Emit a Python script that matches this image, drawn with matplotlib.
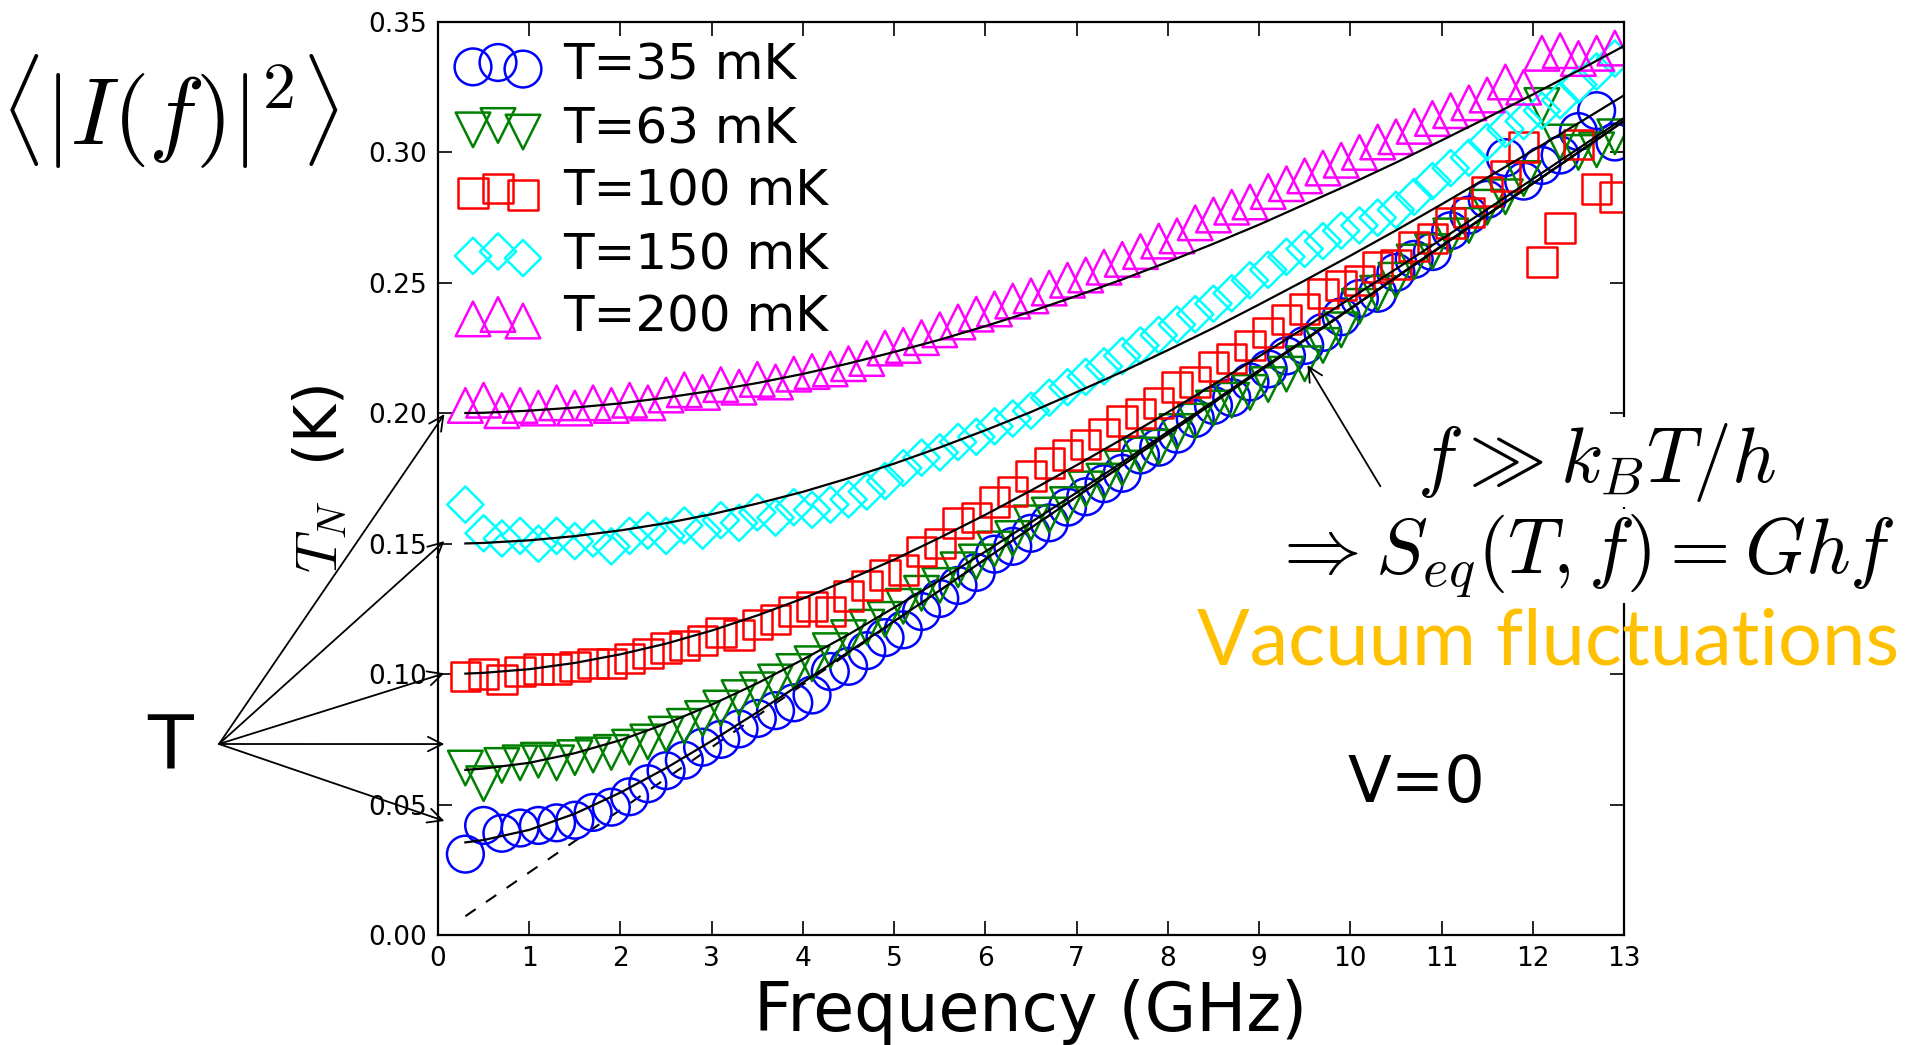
import numpy as np
import matplotlib
matplotlib.use("Agg")
import matplotlib.pyplot as plt

plt.rcParams['mathtext.fontset'] = 'cm'
plt.rcParams['font.family'] = 'DejaVu Sans'

# frequency sweep (GHz)
freq = [0.3, 0.5, 0.7, 0.9, 1.1, 1.3, 1.5, 1.7, 1.9, 2.1, 2.3, 2.5, 2.7, 2.9, 3.1, 3.3,
        3.5, 3.7, 3.9, 4.1, 4.3, 4.5, 4.7, 4.9, 5.1, 5.3, 5.5, 5.7, 5.9, 6.1, 6.3, 6.5,
        6.7, 6.9, 7.1, 7.3, 7.5, 7.7, 7.9, 8.1, 8.3, 8.5, 8.7, 8.9, 9.1, 9.3, 9.5, 9.7,
        9.9, 10.1, 10.3, 10.5, 10.7, 10.9, 11.1, 11.3, 11.5, 11.7, 11.9, 12.1, 12.3, 12.5,
        12.7, 12.9]

# measured noise temperature T_N (K)
tn_35 = [0.031, 0.042, 0.039, 0.041, 0.042, 0.043, 0.044, 0.047, 0.049, 0.053, 0.058, 0.063,
         0.067, 0.072, 0.075, 0.079, 0.083, 0.086, 0.089, 0.092, 0.101, 0.103, 0.109, 0.114,
         0.117, 0.124, 0.129, 0.134, 0.139, 0.146, 0.149, 0.154, 0.158, 0.164, 0.168, 0.173,
         0.177, 0.184, 0.187, 0.192, 0.198, 0.203, 0.206, 0.212, 0.217, 0.222, 0.226, 0.231,
         0.237, 0.244, 0.246, 0.254, 0.259, 0.262, 0.270, 0.276, 0.282, 0.298, 0.289, 0.295,
         0.299, 0.308, 0.316, 0.304]
tn_63 = [0.064, 0.058, 0.065, 0.066, 0.067, 0.066, 0.068, 0.069, 0.070, 0.072, 0.074, 0.077,
         0.080, 0.083, 0.087, 0.091, 0.094, 0.097, 0.101, 0.104, 0.109, 0.114, 0.118, 0.121,
         0.126, 0.131, 0.134, 0.140, 0.143, 0.148, 0.152, 0.158, 0.161, 0.165, 0.171, 0.174,
         0.179, 0.184, 0.187, 0.193, 0.197, 0.202, 0.205, 0.208, 0.211, 0.215, 0.219, 0.226,
         0.232, 0.241, 0.246, 0.251, 0.258, 0.262, 0.268, 0.272, 0.279, 0.283, 0.290, 0.318,
         0.304, 0.300, 0.301, 0.306]
tn_100 = [0.099, 0.100, 0.098, 0.101, 0.102, 0.102, 0.103, 0.104, 0.104, 0.106, 0.108, 0.110,
          0.111, 0.113, 0.116, 0.115, 0.119, 0.121, 0.124, 0.126, 0.124, 0.130, 0.134, 0.138,
          0.140, 0.147, 0.150, 0.158, 0.160, 0.166, 0.170, 0.176, 0.181, 0.184, 0.188, 0.192,
          0.197, 0.200, 0.204, 0.210, 0.212, 0.218, 0.221, 0.226, 0.231, 0.236, 0.240, 0.246,
          0.249, 0.251, 0.256, 0.257, 0.264, 0.267, 0.273, 0.277, 0.285, 0.291, 0.302, 0.258,
          0.271, 0.303, 0.286, 0.283]
tn_150 = [0.165, 0.154, 0.152, 0.153, 0.150, 0.153, 0.151, 0.152, 0.149, 0.153, 0.155, 0.153,
          0.157, 0.155, 0.159, 0.158, 0.162, 0.160, 0.164, 0.163, 0.165, 0.167, 0.170, 0.174,
          0.179, 0.183, 0.185, 0.189, 0.191, 0.195, 0.198, 0.201, 0.206, 0.210, 0.214, 0.218,
          0.222, 0.226, 0.230, 0.234, 0.238, 0.242, 0.246, 0.251, 0.255, 0.260, 0.263, 0.266,
          0.270, 0.272, 0.275, 0.278, 0.283, 0.289, 0.294, 0.298, 0.304, 0.309, 0.312, 0.316,
          0.320, 0.326, 0.331, 0.336]
tn_200 = [0.203, 0.205, 0.201, 0.203, 0.202, 0.204, 0.202, 0.204, 0.203, 0.205, 0.204, 0.207,
          0.209, 0.208, 0.211, 0.210, 0.213, 0.212, 0.215, 0.216, 0.217, 0.219, 0.221, 0.225,
          0.226, 0.229, 0.232, 0.235, 0.238, 0.240, 0.243, 0.245, 0.248, 0.251, 0.253, 0.256,
          0.259, 0.262, 0.266, 0.268, 0.273, 0.276, 0.279, 0.281, 0.285, 0.288, 0.291, 0.294,
          0.297, 0.300, 0.304, 0.306, 0.310, 0.313, 0.316, 0.319, 0.322, 0.327, 0.325, 0.338,
          0.339, 0.336, 0.338, 0.340]

# fitted curves
fit_freq = [0.3, 0.5, 1.0, 1.5, 2.0, 2.5, 3.0, 3.5, 4.0, 4.5, 5.0, 5.5, 6.0, 6.5, 7.0, 7.5,
            8.0, 8.5, 9.0, 9.5, 10.0, 10.5, 11.0, 11.5, 12.0, 12.5, 13.0]
fit_35 = [0.0355, 0.0364, 0.0403, 0.0465, 0.0546, 0.0640, 0.0744, 0.0854, 0.0968, 0.1085,
          0.1203, 0.1321, 0.1441, 0.1561, 0.1680, 0.1800, 0.1920, 0.2040, 0.2160, 0.2280,
          0.2400, 0.2520, 0.2640, 0.2760, 0.2880, 0.3000, 0.3120]
fit_63 = [0.0633, 0.0638, 0.0660, 0.0697, 0.0747, 0.0810, 0.0883, 0.0965, 0.1056, 0.1152,
          0.1255, 0.1360, 0.1470, 0.1582, 0.1696, 0.1812, 0.1929, 0.2046, 0.2165, 0.2283,
          0.2402, 0.2522, 0.2642, 0.2762, 0.2881, 0.3001, 0.3121]
fit_100 = [0.1002, 0.1005, 0.1019, 0.1043, 0.1076, 0.1117, 0.1167, 0.1225, 0.1290, 0.1362,
           0.1439, 0.1523, 0.1611, 0.1704, 0.1801, 0.1901, 0.2004, 0.2110, 0.2218, 0.2328,
           0.2440, 0.2553, 0.2667, 0.2782, 0.2898, 0.3015, 0.3132]
fit_150 = [0.1501, 0.1503, 0.1513, 0.1529, 0.1551, 0.1579, 0.1613, 0.1654, 0.1699, 0.1751,
           0.1807, 0.1869, 0.1935, 0.2005, 0.2081, 0.2159, 0.2242, 0.2327, 0.2417, 0.2509,
           0.2604, 0.2701, 0.2801, 0.2903, 0.3007, 0.3112, 0.3219]
fit_200 = [0.2001, 0.2002, 0.2010, 0.2022, 0.2038, 0.2060, 0.2086, 0.2116, 0.2151, 0.2191,
           0.2235, 0.2282, 0.2334, 0.2390, 0.2450, 0.2513, 0.2580, 0.2650, 0.2723, 0.2801,
           0.2879, 0.2961, 0.3046, 0.3133, 0.3222, 0.3314, 0.3408]

# vacuum asymptote hf/2k_B
vac_freq = [0.3, 13.0]
vac_tn = [0.0072, 0.312]

labels = ['T=35 mK', 'T=63 mK', 'T=100 mK', 'T=150 mK', 'T=200 mK']
series = [tn_35, tn_63, tn_100, tn_150, tn_200]
fits = [fit_35, fit_63, fit_100, fit_150, fit_200]
colors = ['blue', 'green', 'red', 'cyan', 'magenta']
markers = ['o', 'v', 's', 'D', '^']
msizes = [700, 620, 450, 340, 620]

fig = plt.figure(figsize=(19.07, 10.45), dpi=100)
ax = fig.add_axes([438 / 1907, 1 - 935 / 1045, (1624 - 438) / 1907, (935 - 22) / 1045])

ax.plot(vac_freq, vac_tn, ls='--', color='black', lw=1.5, dashes=(6, 6), zorder=1)

handles = []
for y, lab, c, m, s in zip(series, labels, colors, markers, msizes):
    h = ax.scatter(freq, y, s=s, marker=m, facecolors='none', edgecolors=c,
                   linewidths=1.8, label=lab, zorder=2)
    handles.append(h)
for y in fits:
    ax.plot(fit_freq, y, color='black', lw=1.6, zorder=3)

ax.set_xlim(0, 13)
ax.set_ylim(0, 0.35)
ax.set_xticks(np.arange(0, 14, 1))
ax.set_yticks(np.arange(0, 0.36, 0.05))
ax.set_yticklabels(['%.2f' % v for v in np.arange(0, 0.36, 0.05)])
ax.tick_params(direction='in', length=10, width=1.2, labelsize=19, top=True, right=True,
               pad=8)
for s in ax.spines.values():
    s.set_linewidth(1.6)

ax.set_ylabel(r'$T_N$  (K)', fontsize=42, labelpad=14)
fig.text(1031 / 1907, 14 / 1045, 'Frequency (GHz)', fontsize=48, ha='center', va='baseline')

leg = ax.legend(handles=handles, loc='upper left', scatterpoints=3, frameon=False,
                fontsize=36, handlelength=1.6, handletextpad=0.5, labelspacing=0.3,
                borderaxespad=0.1, borderpad=0.3)

# annotations outside the axes
fig.text(0 / 1907, 1 - 112 / 1045, r'$\langle|I(f)|^2\rangle$', fontsize=68, ha='left',
         va='center')
fig.text(170 / 1907, 1 - 748 / 1045, 'T', fontsize=54, ha='center', va='center')
tips = [0.1997, 0.151, 0.1003, 0.0732, 0.0437]
for t in tips:
    ax.annotate('', xy=(0.07, t), xycoords='data', xytext=(219 / 1907, 1 - 744 / 1045),
                textcoords='figure fraction', annotation_clip=False,
                arrowprops=dict(arrowstyle='->', lw=1.3, color='black', shrinkA=0,
                                shrinkB=0, mutation_scale=26))

ax.annotate('', xy=(9.53, 0.2185), xytext=(10.33, 0.172), xycoords='data',
            annotation_clip=False,
            arrowprops=dict(arrowstyle='->', lw=1.3, color='black', shrinkA=0, shrinkB=0,
                            mutation_scale=26))

fig.text(1417 / 1907, 1 - 462 / 1045, r'$f \gg k_B T/h$', fontsize=56, ha='left',
         va='center', bbox=dict(facecolor='white', edgecolor='none', pad=2))
fig.text(1895 / 1907, 1 - 556 / 1045, r'$\Rightarrow S_{eq}(T,f) = Ghf$', fontsize=56,
         ha='right', va='center', bbox=dict(facecolor='white', edgecolor='none', pad=2))
fig.text(1899 / 1907, 1 - 643 / 1045, 'Vacuum fluctuations', fontsize=56, family='Lato',
         color='#FFC000', ha='right', va='center')
ax.text(10.72, 0.058, 'V=0', fontsize=46, ha='center', va='center')

fig.savefig('out.png', dpi=100)
